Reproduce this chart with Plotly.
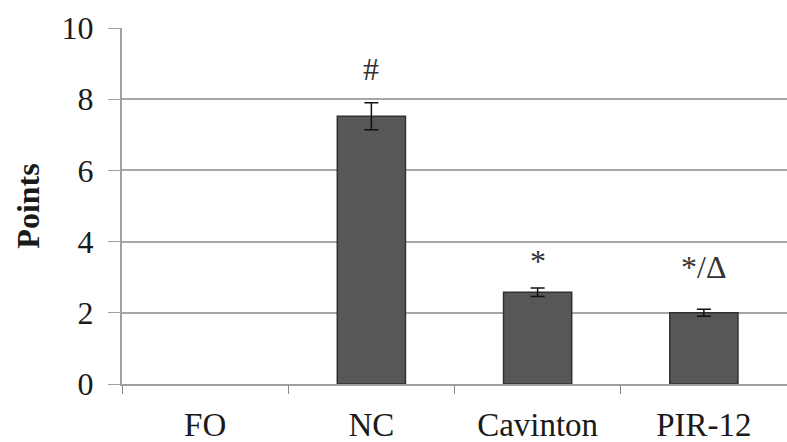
import plotly.graph_objects as go

categories = ["FO", "NC", "Cavinton", "PIR-12"]
values = [0, 7.52, 2.58, 2.0]
errors = [0, 0.38, 0.12, 0.1]
marks = ["", "#", "*", "*/Δ"]
mark_y = [None, 8.85, 3.45, 3.3]
y_ticks = [0, 2, 4, 6, 8, 10]

# a zero value has no visible bar in the original
plot_y = [v if v > 0 else None for v in values]
plot_err = [e if v > 0 else None for v, e in zip(values, errors)]

fig = go.Figure()
fig.add_trace(go.Bar(
    x=categories, y=plot_y,
    marker=dict(color="#575757", line=dict(color="#303030", width=1.5)),
    width=0.41,
    error_y=dict(type="data", array=plot_err, visible=True, color="#111111", thickness=1.5, width=7),
    showlegend=False,
))

for c, m, yy in zip(categories, marks, mark_y):
    if m:
        fig.add_annotation(x=c, y=yy, text=m, showarrow=False, yanchor="middle",
                           font=dict(family="Liberation Serif", size=32, color="#333333"))

fig.update_layout(
    width=787, height=442,
    margin=dict(l=122, r=0, t=28, b=58),
    paper_bgcolor="white", plot_bgcolor="white",
    font=dict(family="Liberation Serif", color="#1a1a1a"),
)
fig.update_xaxes(
    type="category", categoryarray=categories, categoryorder="array",
    tickson="boundaries", ticks="outside", ticklen=8, tickcolor="#888888",
    showline=True, linecolor="#a0a0a0", linewidth=2, showgrid=False,
    tickfont=dict(family="Liberation Serif", size=33, color="#1a1a1a"),
    ticklabelstandoff=10,
    range=[-0.5, 3.5],
)
fig.update_yaxes(
    range=[0, 10], tickvals=y_ticks, ticks="outside", ticklen=12, tickcolor="#a0a0a0",
    showline=True, linecolor="#a0a0a0", linewidth=2,
    showgrid=True, gridcolor="#a6a6a6", gridwidth=2, zeroline=False,
    tickfont=dict(family="Liberation Serif", size=32, color="#1a1a1a"),
    ticklabelstandoff=8,
    title=dict(text="<b>Points</b>", font=dict(family="Liberation Serif", size=32, color="#1a1a1a"), standoff=12),
)

fig.write_html("out.html", config={"displayModeBar": False},
               post_script="document.body.style.margin='0';document.body.style.overflow='hidden';")
